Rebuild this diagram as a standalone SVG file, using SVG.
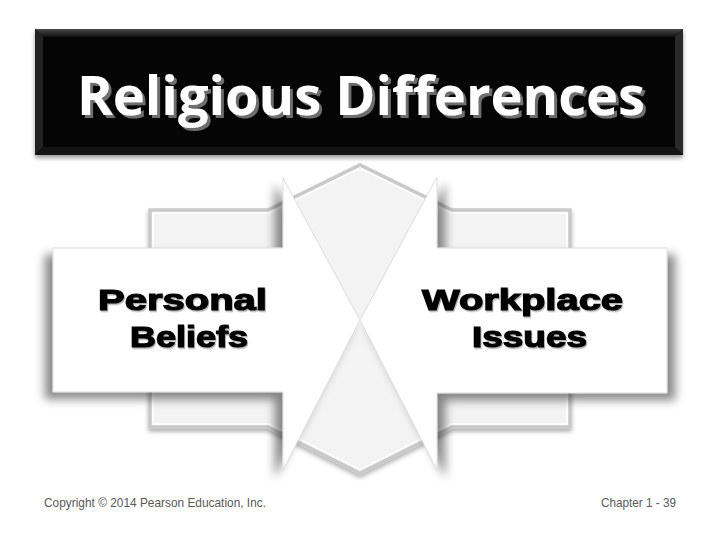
<svg xmlns="http://www.w3.org/2000/svg" width="720" height="540" viewBox="0 0 720 540">
  <defs>
    <filter id="shL" x="-20%" y="-20%" width="140%" height="140%">
      <feDropShadow dx="-8" dy="7" stdDeviation="5" flood-color="#000" flood-opacity="0.45"/>
    </filter>
    <filter id="shR" x="-20%" y="-20%" width="140%" height="140%">
      <feDropShadow dx="8" dy="7" stdDeviation="5" flood-color="#000" flood-opacity="0.45"/>
    </filter>
    <filter id="shB" x="-10%" y="-10%" width="120%" height="130%">
      <feDropShadow dx="0" dy="3" stdDeviation="2" flood-color="#000" flood-opacity="0.3"/>
    </filter>
    <filter id="shT" x="-5%" y="-10%" width="110%" height="130%">
      <feDropShadow dx="0" dy="3" stdDeviation="2" flood-color="#000" flood-opacity="0.4"/>
    </filter>
    <filter id="shTitle" x="-5%" y="-10%" width="110%" height="130%">
      <feDropShadow dx="3" dy="3" stdDeviation="0.5" flood-color="#6e6e6e" flood-opacity="1"/>
    </filter>
    <filter id="shTxt" x="-5%" y="-10%" width="110%" height="130%">
      <feDropShadow dx="1" dy="1.5" stdDeviation="0.6" flood-color="#000" flood-opacity="0.3"/>
    </filter>
    <linearGradient id="bevTop" x1="0" y1="0" x2="0" y2="1">
      <stop offset="0" stop-color="#4a4a4a"/>
      <stop offset="1" stop-color="#111"/>
    </linearGradient>
  </defs>
  <style>
    .back { fill: #f3f3f3; stroke: #c9c9c9; stroke-width: 3.5; stroke-linejoin: miter; }
    .backIn { fill: none; stroke: #ffffff; stroke-width: 1.5; }
    .arrow { fill: #ffffff; stroke: #d4d4d4; stroke-width: 0.8; stroke-linejoin: miter; }
    .lbl { font-family: "Liberation Sans", Arial, sans-serif; font-weight: bold; font-size: 30px; fill: #000; stroke: #000; stroke-width: 1.2; }
    .title { font-family: "Open Sans", "Noto Sans", sans-serif; font-weight: bold; font-size: 54px; }
    .foot { font-family: "Liberation Sans", Arial, sans-serif; font-size: 12px; fill: #595959; }
  </style>

  <rect width="720" height="540" fill="#ffffff"/>

  <!-- Title bar -->
  <g id="title">
    <g filter="url(#shT)">
      <rect x="35" y="29" width="648" height="126" fill="#0a0a0a"/>
    </g>
    <polygon points="35,29 683,29 675,37 43,37" fill="url(#bevTop)"/>
    <polygon points="35,29 43,37 43,147 35,155" fill="#222"/>
    <polygon points="683,29 675,37 675,147 683,155" fill="#2a2a2a"/>
    <polygon points="35,155 43,147 675,147 683,155" fill="#141414"/>
    <rect x="43" y="37" width="632" height="110" fill="#050505"/>
    <text class="title" x="361" y="115" text-anchor="middle" textLength="568" lengthAdjust="spacingAndGlyphs" fill="#ffffff" filter="url(#shTitle)">Religious Differences</text>
  </g>

  <!-- Background shape -->
  <g id="backdrop">
    <g filter="url(#shB)">
      <polygon class="back" points="150,210 268,210 360,165 452,210 570,210 570,427 452,427 360,473 268,427 150,427"/>
    </g>
    <polygon class="backIn" points="153,213 269,213 360,168 451,213 567,213 567,424 451,424 360,470 269,424 153,424"/>
  </g>

  <!-- Connectors (none) -->
  <g id="connectors"></g>

  <!-- Left arrow -->
  <g id="personal-beliefs">
    <g filter="url(#shL)">
      <polygon class="arrow" points="53,248 283,248 283,178 360,320 283,470 283,392 53,392"/>
    </g>
    <g filter="url(#shTxt)">
      <text class="lbl" x="98" y="310" textLength="169" lengthAdjust="spacingAndGlyphs">Personal</text>
      <text class="lbl" x="130" y="347" textLength="118" lengthAdjust="spacingAndGlyphs">Beliefs</text>
    </g>
  </g>

  <!-- Right arrow -->
  <g id="workplace-issues">
    <g filter="url(#shR)">
      <polygon class="arrow" points="667,248 437,248 437,177 360,320 437,470 437,393 667,393"/>
    </g>
    <g filter="url(#shTxt)">
      <text class="lbl" x="422" y="310" textLength="201" lengthAdjust="spacingAndGlyphs">Workplace</text>
      <text class="lbl" x="472" y="347" textLength="115" lengthAdjust="spacingAndGlyphs">Issues</text>
    </g>
  </g>

  <!-- Footer -->
  <g id="footer">
    <text class="foot" x="44" y="507" textLength="222" lengthAdjust="spacingAndGlyphs">Copyright © 2014 Pearson Education, Inc.</text>
    <text class="foot" x="676" y="507" text-anchor="end" textLength="75" lengthAdjust="spacingAndGlyphs">Chapter 1 - 39</text>
  </g>
</svg>
